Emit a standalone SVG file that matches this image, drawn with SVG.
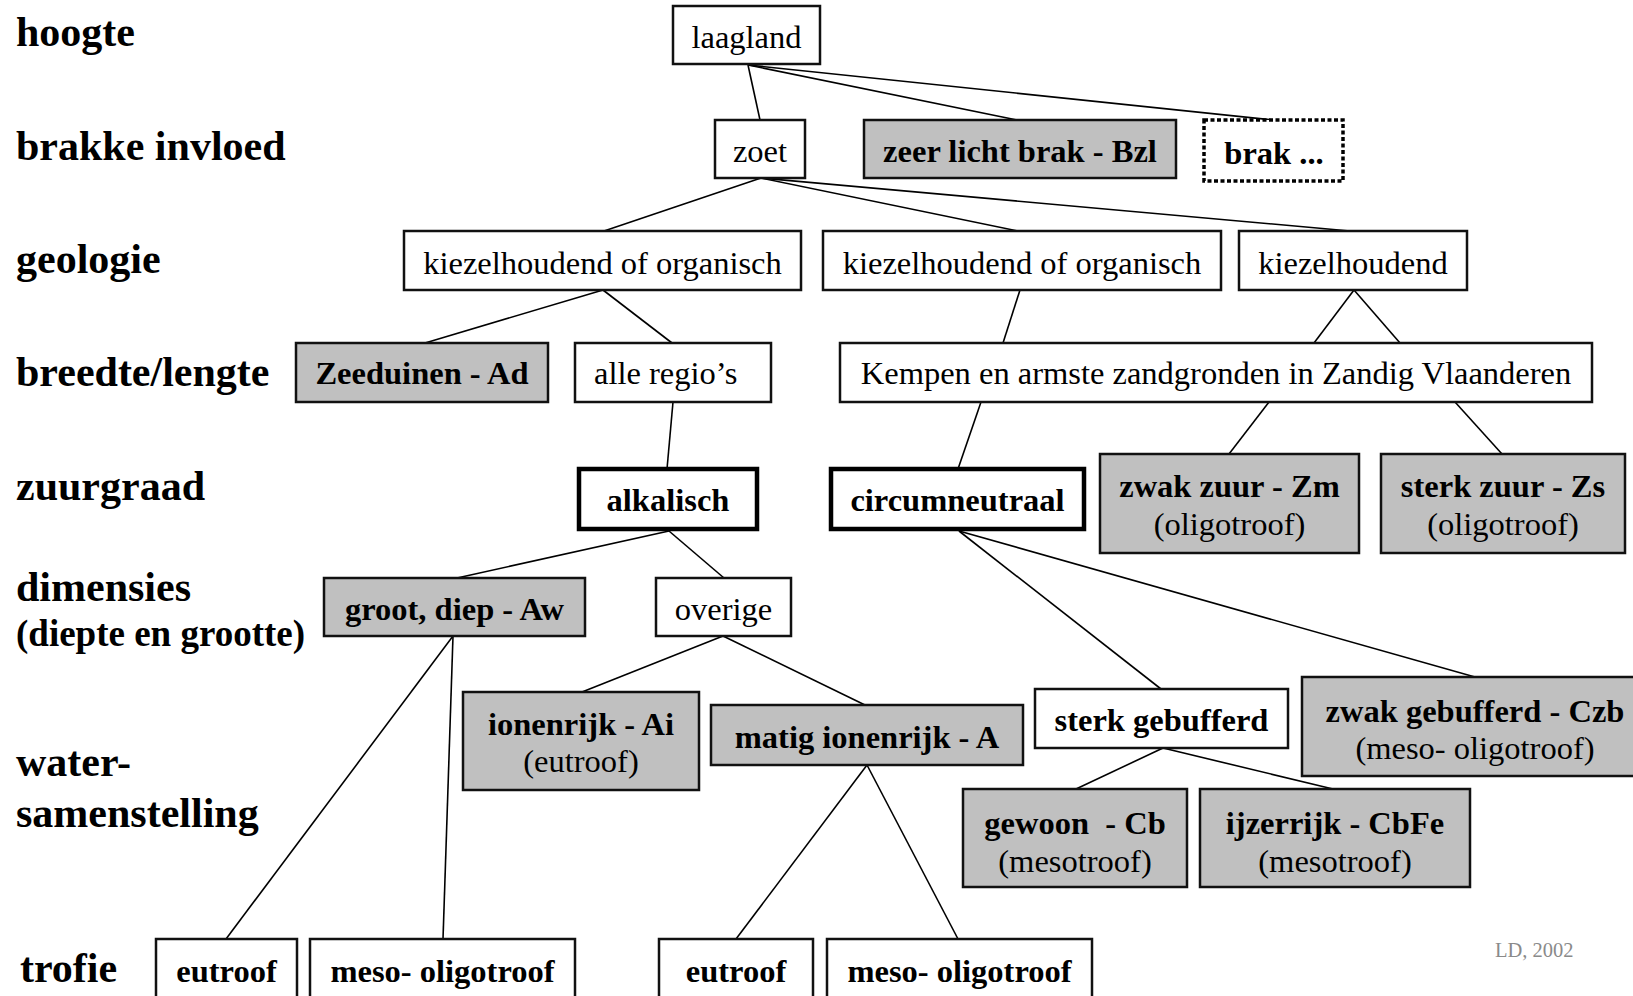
<svg xmlns="http://www.w3.org/2000/svg" width="1633" height="996" viewBox="0 0 1633 996">
  <style>
    text { font-family: "Liberation Serif", "Times New Roman", serif; fill: #000; }
    .lbl { font-size: 42px; font-weight: bold; }
    .lbl2 { font-size: 37px; font-weight: bold; }
    .n { font-size: 32.5px; text-anchor: middle; }
    .b { font-weight: bold; }
    .box { fill: #fff; stroke: #111; stroke-width: 2.5; }
    .grey { fill: #c0c0c0; stroke: #111; stroke-width: 2.5; }
    .thick { fill: #fff; stroke: #000; stroke-width: 4.5; }
    .dotted { fill: #fff; stroke: #000; stroke-width: 3.5; stroke-dasharray: 4 2.5; }
    .edges line { stroke: #000; stroke-width: 1.6; }
    .note { font-size: 20.5px; fill: #8a8a8a; }
  </style>
  <rect width="1633" height="996" fill="#fff"/>

  <!-- level labels -->
  <g id="levels">
    <text class="lbl" x="16" y="46">hoogte</text>
    <text class="lbl" x="16" y="160">brakke invloed</text>
    <text class="lbl" x="16" y="273">geologie</text>
    <text class="lbl" x="16" y="386">breedte/lengte</text>
    <text class="lbl" x="16" y="500">zuurgraad</text>
    <text class="lbl" x="16" y="601">dimensies</text>
    <text class="lbl2" x="16" y="646">(diepte en grootte)</text>
    <text class="lbl" x="16" y="776">water-</text>
    <text class="lbl" x="16" y="827">samenstelling</text>
    <text class="lbl" x="20" y="982">trofie</text>
  </g>

  <!-- connectors -->
  <g id="edges" class="edges">
    <line x1="748" y1="65" x2="760" y2="120"/>
    <line x1="748" y1="65" x2="1017" y2="120"/>
    <line x1="748" y1="65" x2="1273" y2="120"/>
    <line x1="761" y1="178" x2="604" y2="231"/>
    <line x1="761" y1="178" x2="1018" y2="231"/>
    <line x1="761" y1="178" x2="1350" y2="231"/>
    <line x1="603" y1="290" x2="425" y2="343"/>
    <line x1="603" y1="290" x2="672" y2="343"/>
    <line x1="1020" y1="290" x2="1003" y2="343"/>
    <line x1="1354" y1="290" x2="1314" y2="343"/>
    <line x1="1354" y1="290" x2="1400" y2="343"/>
    <line x1="673" y1="402" x2="667" y2="469"/>
    <line x1="981" y1="402" x2="958" y2="469"/>
    <line x1="1269" y1="402" x2="1229" y2="454"/>
    <line x1="1455" y1="402" x2="1502" y2="454"/>
    <line x1="669" y1="531" x2="457" y2="578"/>
    <line x1="669" y1="531" x2="724" y2="578"/>
    <line x1="959" y1="531" x2="1161" y2="689"/>
    <line x1="959" y1="531" x2="1475" y2="677"/>
    <line x1="453" y1="636" x2="226" y2="939"/>
    <line x1="453" y1="636" x2="443" y2="939"/>
    <line x1="723" y1="636" x2="582" y2="692"/>
    <line x1="723" y1="636" x2="865" y2="705"/>
    <line x1="867" y1="765" x2="736" y2="939"/>
    <line x1="867" y1="765" x2="958" y2="939"/>
    <line x1="1163" y1="748" x2="1076" y2="789"/>
    <line x1="1163" y1="748" x2="1333" y2="789"/>
  </g>

  <!-- nodes -->
  <g id="laagland">
    <rect class="box" x="673" y="6" width="147" height="58"/>
    <text class="n" x="746.5" y="48">laagland</text>
  </g>
  <g id="zoet">
    <rect class="box" x="715" y="120" width="90" height="58"/>
    <text class="n" x="760" y="162">zoet</text>
  </g>
  <g id="zeer-licht-brak">
    <rect class="grey" x="864" y="120" width="312" height="58"/>
    <text class="n b" x="1020" y="162">zeer licht brak - Bzl</text>
  </g>
  <g id="brak">
    <rect class="dotted" x="1204" y="120" width="139" height="61"/>
    <text class="n b" x="1274" y="164">brak ...</text>
  </g>
  <g id="geo-1">
    <rect class="box" x="404" y="231" width="397" height="59"/>
    <text class="n" x="602.5" y="274">kiezelhoudend of organisch</text>
  </g>
  <g id="geo-2">
    <rect class="box" x="823" y="231" width="398" height="59"/>
    <text class="n" x="1022" y="274">kiezelhoudend of organisch</text>
  </g>
  <g id="geo-3">
    <rect class="box" x="1239" y="231" width="228" height="59"/>
    <text class="n" x="1353" y="274">kiezelhoudend</text>
  </g>
  <g id="zeeduinen">
    <rect class="grey" x="296" y="343" width="252" height="59"/>
    <text class="n b" x="422" y="384">Zeeduinen - Ad</text>
  </g>
  <g id="alle-regios">
    <rect class="box" x="575" y="343" width="196" height="59"/>
    <text class="n" x="594" y="384" style="text-anchor:start">alle regio’s</text>
  </g>
  <g id="kempen">
    <rect class="box" x="840" y="343" width="752" height="59"/>
    <text class="n" x="1216" y="384">Kempen en armste zandgronden in Zandig Vlaanderen</text>
  </g>
  <g id="alkalisch">
    <rect class="thick" x="579" y="469" width="178" height="60"/>
    <text class="n b" x="668" y="511">alkalisch</text>
  </g>
  <g id="circumneutraal">
    <rect class="thick" x="831" y="469" width="253" height="60"/>
    <text class="n b" x="957.5" y="511">circumneutraal</text>
  </g>
  <g id="zwak-zuur">
    <rect class="grey" x="1100" y="454" width="259" height="99"/>
    <text class="n b" x="1229.5" y="497">zwak zuur - Zm</text>
    <text class="n" x="1229.5" y="535">(oligotroof)</text>
  </g>
  <g id="sterk-zuur">
    <rect class="grey" x="1381" y="454" width="244" height="99"/>
    <text class="n b" x="1503" y="497">sterk zuur - Zs</text>
    <text class="n" x="1503" y="535">(oligotroof)</text>
  </g>
  <g id="groot-diep">
    <rect class="grey" x="324" y="578" width="261" height="58"/>
    <text class="n b" x="454.5" y="620">groot, diep - Aw</text>
  </g>
  <g id="overige">
    <rect class="box" x="656" y="578" width="135" height="58"/>
    <text class="n" x="723.5" y="620">overige</text>
  </g>
  <g id="ionenrijk">
    <rect class="grey" x="463" y="692" width="236" height="98"/>
    <text class="n b" x="581" y="735">ionenrijk - Ai</text>
    <text class="n" x="581" y="772">(eutroof)</text>
  </g>
  <g id="matig-ionenrijk">
    <rect class="grey" x="711" y="705" width="312" height="60"/>
    <text class="n b" x="867" y="748">matig ionenrijk - A</text>
  </g>
  <g id="sterk-gebufferd">
    <rect class="box" x="1035" y="689" width="253" height="59"/>
    <text class="n b" x="1161.5" y="731">sterk gebufferd</text>
  </g>
  <g id="zwak-gebufferd">
    <rect class="grey" x="1302" y="677" width="340" height="99"/>
    <text class="n b" x="1475" y="722">zwak gebufferd - Czb</text>
    <text class="n" x="1475" y="759">(meso- oligotroof)</text>
  </g>
  <g id="gewoon">
    <rect class="grey" x="963" y="789" width="224" height="98"/>
    <text class="n b" x="1075" y="834" xml:space="preserve">gewoon  - Cb</text>
    <text class="n" x="1075" y="872">(mesotroof)</text>
  </g>
  <g id="ijzerrijk">
    <rect class="grey" x="1200" y="789" width="270" height="98"/>
    <text class="n b" x="1335" y="834">ijzerrijk - CbFe</text>
    <text class="n" x="1335" y="872">(mesotroof)</text>
  </g>
  <g id="eutroof-1">
    <rect class="box" x="156" y="939" width="141" height="70"/>
    <text class="n b" x="226.5" y="982">eutroof</text>
  </g>
  <g id="meso-oligotroof-1">
    <rect class="box" x="310" y="939" width="265" height="70"/>
    <text class="n b" x="442.5" y="982">meso- oligotroof</text>
  </g>
  <g id="eutroof-2">
    <rect class="box" x="659" y="939" width="154" height="70"/>
    <text class="n b" x="736" y="982">eutroof</text>
  </g>
  <g id="meso-oligotroof-2">
    <rect class="box" x="827" y="939" width="265" height="70"/>
    <text class="n b" x="959.5" y="982">meso- oligotroof</text>
  </g>

  <text class="note" x="1495" y="957">LD, 2002</text>
</svg>
